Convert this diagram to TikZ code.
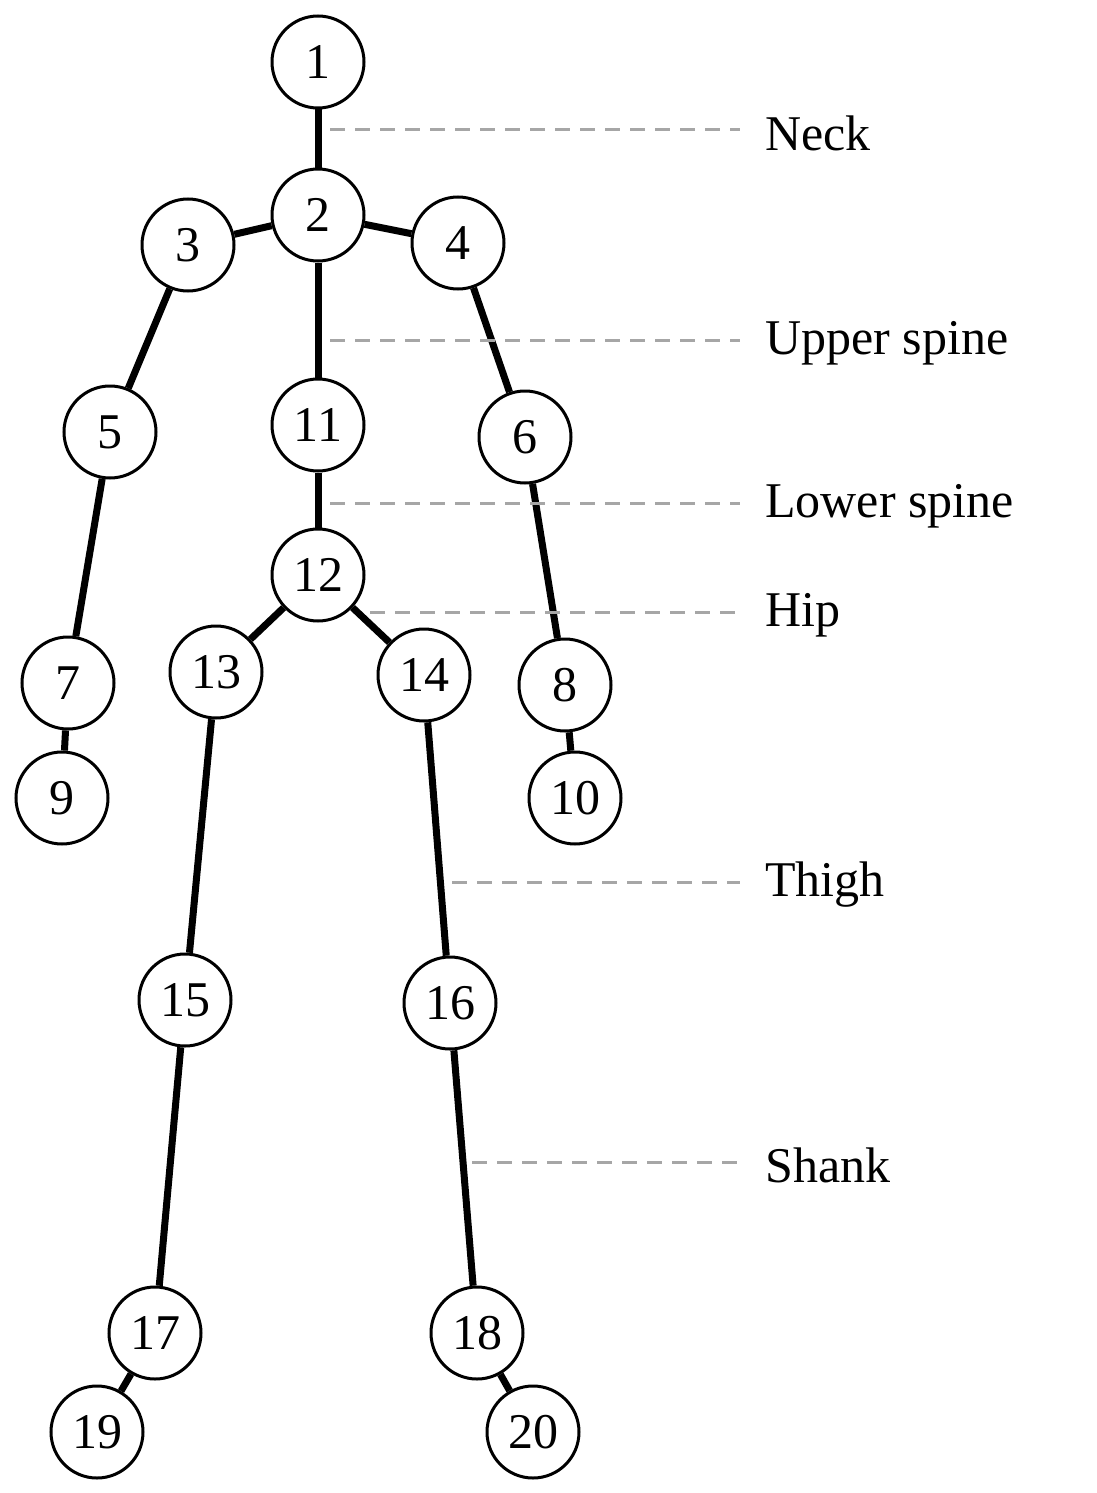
\documentclass[tikz,border=0pt]{standalone}
\usepackage{fontspec}
\setmainfont{Liberation Serif}
\begin{document}
\begin{tikzpicture}[x=1pt,y=-1pt,
  j/.style={circle,draw,line width=3pt,minimum size=92pt,inner sep=0pt,font=\fontsize{50}{60}\selectfont,fill=white},
  bone/.style={line width=7pt},
  guide/.style={gray!70,line width=3pt,dash pattern=on 15pt off 10pt},
  lab/.style={anchor=west,font=\fontsize{50}{60}\selectfont,inner sep=0pt}]
\useasboundingbox (0,0) rectangle (1097,1493);
\foreach \n/\x/\y in {1/318/62,2/318/215,3/188/245,4/458/243,5/110/432,11/318/425,6/525/437,12/318/575,13/216/672,14/424/675,7/68/683,8/565/685,9/62/798,10/575/798,15/185/1000,16/450/1003,17/155/1333,18/477/1333,19/97/1432,20/533/1432}
  \node[j] (n\n) at (\x,\y) {\n};
\begin{scope}[on background layer/.style={}]
\foreach \a/\b in {1/2,2/3,2/4,2/11,3/5,5/7,7/9,4/6,6/8,8/10,11/12,12/13,12/14,13/15,15/17,17/19,14/16,16/18,18/20}
  \draw[bone] (n\a) -- (n\b);
\end{scope}
\coordinate (g1) at (330,130); \coordinate (e1) at (740,130);
\coordinate (g2) at (330,340); \coordinate (e2) at (740,340);
\coordinate (g3) at (330,503); \coordinate (e3) at (740,503);
\coordinate (g4) at (370,612); \coordinate (e4) at (740,612);
\coordinate (g5) at (452,882); \coordinate (e5) at (740,882);
\coordinate (g6) at (472,1162); \coordinate (e6) at (740,1162);
\foreach \i in {1,...,6} \draw[guide] (g\i) -- (e\i);
\node[lab] (l1) at (765,133) {Neck};
\node[lab] (l2) at (765,343) {Upper spine};
\node[lab] (l3) at (765,506) {Lower spine};
\node[lab] (l4) at (765,615) {Hip};
\node[lab] (l5) at (765,885) {Thigh};
\node[lab] (l6) at (765,1165) {Shank};
\end{tikzpicture}
\end{document}
